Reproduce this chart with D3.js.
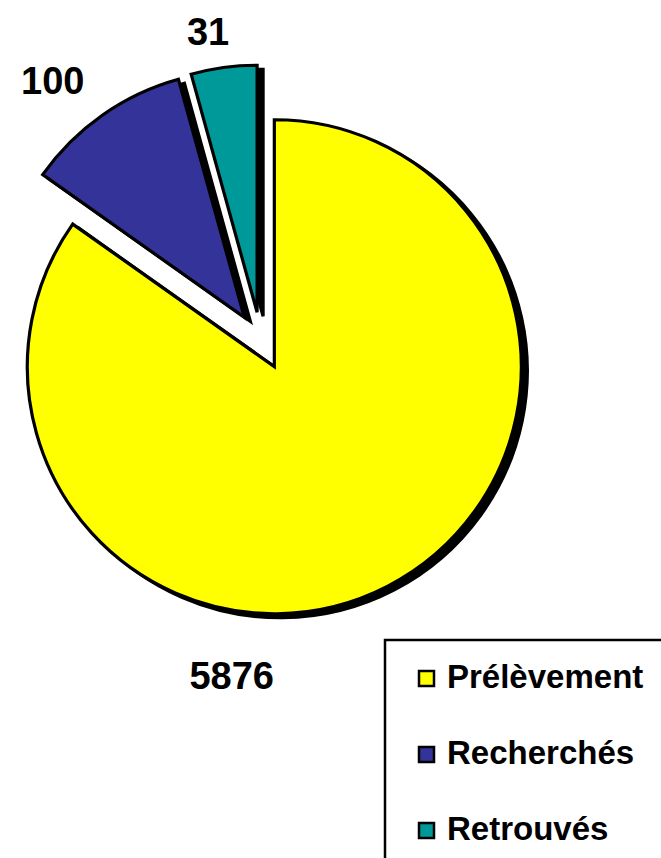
<!DOCTYPE html>
<html>
<head>
<meta charset="utf-8">
<script src="https://cdn.jsdelivr.net/npm/d3@7/dist/d3.min.js"></script>
<style>
  html, body { margin: 0; padding: 0; background: #ffffff; }
  svg { display: block; }
  text { font-family: "Liberation Sans", Arial, sans-serif; font-weight: bold; fill: #000; }
</style>
</head>
<body>
<svg id="chart" width="661" height="858"></svg>
<script>
// ---- data ----
const categories = ["Prélèvement", "Recherchés", "Retrouvés"];
const values = [5876, 100, 31];              // printed data labels
const sliceShares = [84.8, 10.9, 4.3];       // angular share of each slice as drawn (% of circle)
const colors = ["#FFFF00", "#333399", "#009999"];

// ---- layout ----
const W = 661, H = 858;
const cx = 261, cy = 341, R = 247, explode = 29;
const shadowDx = 6, shadowDy = 4;
// label placement (polar, relative to pie centre, degrees clockwise from 12 o'clock)
const labelPolar = [[185, 336], [321.3, 333], [350.3, 314]];

const svg = d3.select("#chart");

const rows = categories.map((c, i) => ({ name: c, value: values[i], share: sliceShares[i], color: colors[i] }));

const pie = d3.pie().sort(null).value(d => d.share).startAngle(0).endAngle(2 * Math.PI);
const arcs = pie(rows);
const arc = d3.arc().innerRadius(0).outerRadius(R);

function offset(d) {
  const m = (d.startAngle + d.endAngle) / 2;
  return [Math.sin(m) * explode, -Math.cos(m) * explode];
}

const g = svg.append("g").attr("transform", `translate(${cx},${cy})`);

// shadows
g.selectAll("path.shadow").data(arcs).enter().append("path")
  .attr("class", "shadow")
  .attr("d", arc)
  .attr("transform", d => { const o = offset(d); return `translate(${o[0] + shadowDx},${o[1] + shadowDy})`; })
  .attr("fill", "#000").attr("stroke", "#000").attr("stroke-width", 3.2).attr("stroke-linejoin", "miter");

// slices
g.selectAll("path.slice").data(arcs).enter().append("path")
  .attr("class", "slice")
  .attr("d", arc)
  .attr("transform", d => { const o = offset(d); return `translate(${o[0]},${o[1]})`; })
  .attr("fill", d => d.data.color).attr("stroke", "#000").attr("stroke-width", 3.2).attr("stroke-linejoin", "miter");

// value labels
g.selectAll("text.val").data(arcs).enter().append("text")
  .attr("class", "val")
  .attr("x", (d, i) => Math.sin(labelPolar[i][0] * Math.PI / 180) * labelPolar[i][1])
  .attr("y", (d, i) => -Math.cos(labelPolar[i][0] * Math.PI / 180) * labelPolar[i][1])
  .attr("text-anchor", "middle")
  .attr("dominant-baseline", "central")
  .attr("font-size", 38)
  .text(d => d3.format("d")(d.data.value));

// legend
const lg = svg.append("g").attr("transform", "translate(385,640)");
lg.append("rect").attr("x", 0).attr("y", 0).attr("width", 300).attr("height", 260)
  .attr("fill", "#fff").attr("stroke", "#000").attr("stroke-width", 2.5);
const items = lg.selectAll("g.item").data(rows).enter().append("g")
  .attr("class", "item")
  .attr("transform", (d, i) => `translate(0,${48 + i * 76})`);
items.append("rect").attr("x", 34).attr("y", -17).attr("width", 15).attr("height", 15)
  .attr("fill", d => d.color).attr("stroke", "#000").attr("stroke-width", 2.5);
items.append("text").attr("x", 62).attr("y", 0).attr("font-size", 33).text(d => d.name);
</script>
</body>
</html>
